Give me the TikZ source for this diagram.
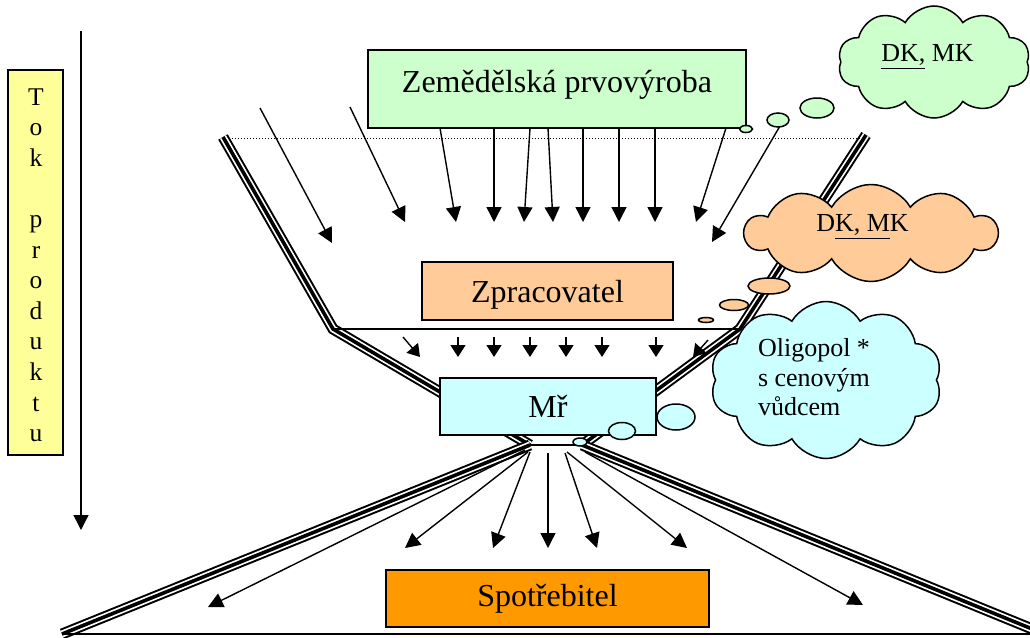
\documentclass[tikz,border=0pt]{standalone}
\usepackage{fontspec}
\setmainfont{Liberation Serif}
\usetikzlibrary{arrows.meta,shapes.symbols,shapes.geometric}

\definecolor{agri}{HTML}{CCFFCC}
\definecolor{proc}{HTML}{FFCC99}
\definecolor{retail}{HTML}{CCFFFF}
\definecolor{cons}{HTML}{FF9900}
\definecolor{flow}{HTML}{FFFF99}

\begin{document}
\begin{tikzpicture}[x=1pt,y=-1pt,
  stage/.style={draw, line width=1.5pt, inner sep=0, font=\fontsize{32}{38}\selectfont},
  flowarrow/.style={line width=1.4pt, -{Triangle[length=15pt,width=15pt]}},
  shortarrow/.style={line width=1.4pt, -{Triangle[length=12pt,width=15pt]}},
  wall/.style={draw=black, line width=11pt, postaction={draw=white, line width=7pt}, postaction={draw=black, line width=3.6pt}},
  puff/.style={draw, line width=1.5pt, cloud, cloud puffs=10, cloud puff arc=120, cloud ignores aspect, inner sep=0},
  bubble/.style={draw, line width=1.5pt, ellipse, inner sep=0},
  cloudtext/.style={font=\fontsize{26}{29.5}\selectfont, inner sep=0}
]
\useasboundingbox (0,0) rectangle (1030,637);

% ---------- funnel walls ----------
\coordinate (lt) at (223,137);
\coordinate (lb) at (333,329);
\coordinate (nl) at (530,445);
\coordinate (rt) at (866,135);
\coordinate (rb) at (740,329);
\coordinate (nr) at (582,445);
\coordinate (bl) at (62,634);
\coordinate (br) at (1042,633);
\coordinate (baseR) at (1030,634);
\coordinate (dotL) at (232,138);
\coordinate (dotR) at (862,138);

\draw[wall] (lt) -- (lb) -- (nl);
\draw[wall] (rt) -- (rb) -- (nr);
\draw[wall] (nl) -- (bl);
\draw[wall] (nr) -- (br);
\draw[line width=1.3pt] (lb) -- (rb);
\draw[line width=1.3pt] (nl) -- (nr);
\draw[line width=2pt] (bl) -- (baseR);
\draw[line width=1pt, dotted] (dotL) -- (dotR);

% ---------- product flow label ----------
\node[draw, line width=1.5pt, fill=flow, minimum width=55pt, minimum height=385pt, inner sep=0] (tok) at (35.5,262.5) {};
\node[align=center, inner sep=0, font=\fontsize{25.5}{30.6}\selectfont] (toktext) at (36,265.2)
  {T\\o\\k\\\mbox{}\\p\\r\\o\\d\\u\\k\\t\\u};
\coordinate (ft) at (81,31);
\coordinate (fb) at (81,530);
\draw[flowarrow] (ft) -- (fb);

% ---------- stages ----------
\node[stage, fill=agri, minimum width=378pt, minimum height=78pt, text height=27.8pt, text depth=21pt] (zem) at (557,89) {Zemědělská prvovýroba};
\node[stage, fill=proc, minimum width=251pt, minimum height=58pt, text depth=0pt] (zpr) at (547.5,291) {Zpracovatel};
\node[stage, fill=retail, minimum width=216pt, minimum height=57pt] (mr) at (548,406.5) {Mř};
\node[stage, fill=cons, minimum width=323pt, minimum height=57pt] (spo) at (547.5,598.5) {Spotřebitel};

% ---------- inflow from primary production ----------
\foreach \i/\sx/\sy/\tx/\ty in {1/440/128/456/222, 2/494/128/494/222, 3/530/128/524/222,
    4/548/128/553/222, 5/583/128/583/222, 6/619/128/619/222, 7/655/128/655/222,
    8/726/128/696/222, 9/780/126/712/242, 10/260/108/332/243, 11/350/107/405/222} {
  \coordinate (in\i s) at (\sx,\sy);
  \coordinate (in\i t) at (\tx,\ty);
  \draw[flowarrow] (in\i s) -- (in\i t);
}

% ---------- processor to retail ----------
\foreach \i/\sx/\sy/\tx/\ty in {1/403/337/420/357, 2/458/337/458/357, 3/494/337/494/357,
    4/530/337/530/357, 5/566/337/566/357, 6/602/337/602/357, 7/656/337/656/357,
    8/708/340/693/357} {
  \coordinate (pr\i s) at (\sx,\sy);
  \coordinate (pr\i t) at (\tx,\ty);
  \draw[shortarrow] (pr\i s) -- (pr\i t);
}

% ---------- retail to consumer ----------
\foreach \i/\sx/\sy/\tx/\ty in {1/525/450/208/607, 2/528/452/405/548, 3/530/452/493/548,
    4/548/453/548/548, 5/565/453/597/548, 6/567/452/687/548, 7/585/452/863/605} {
  \coordinate (co\i s) at (\sx,\sy);
  \coordinate (co\i t) at (\tx,\ty);
  \draw[flowarrow] (co\i s) -- (co\i t);
}

% ---------- thought clouds ----------
\node[puff, fill=agri, minimum width=192pt, minimum height=112pt] (gcl) at (934,62) {};
\node[cloudtext] (gtx) at (927.5,56.5) {\underline{\vphantom{g}DK,} MK};
\node[bubble, fill=agri, minimum width=34pt, minimum height=20pt] (gb1) at (817,108) {};
\node[bubble, fill=agri, minimum width=22pt, minimum height=14pt] (gb2) at (778,120) {};
\node[bubble, fill=agri, minimum width=13pt, minimum height=7pt] (gb3) at (746,129) {};

\node[puff, fill=proc, minimum width=252pt, minimum height=97pt] (ocl) at (871,233) {};
\node[cloudtext] (otx) at (862.5,226.5) {D\underline{K, M\rule[-6pt]{0pt}{1pt}}K};
\node[bubble, fill=proc, minimum width=42pt, minimum height=16pt] (ob1) at (769,286) {};
\node[bubble, fill=proc, minimum width=29pt, minimum height=11pt] (ob2) at (734,305) {};
\node[bubble, fill=proc, minimum width=15pt, minimum height=5pt] (ob3) at (706,320) {};

\node[puff, fill=retail, minimum width=232pt, minimum height=157pt] (ccl) at (826,380) {};
\node[cloudtext, align=left] (ctx) at (814,377.5) {Oligopol *\\s cenovým\\vůdcem};
\node[bubble, fill=retail, minimum width=38pt, minimum height=26pt] (cb1) at (676,417) {};
\node[bubble, fill=retail, minimum width=27pt, minimum height=17pt] (cb2) at (622,431) {};
\node[bubble, fill=retail, minimum width=14pt, minimum height=8pt] (cb3) at (580,442) {};
\end{tikzpicture}
\end{document}
